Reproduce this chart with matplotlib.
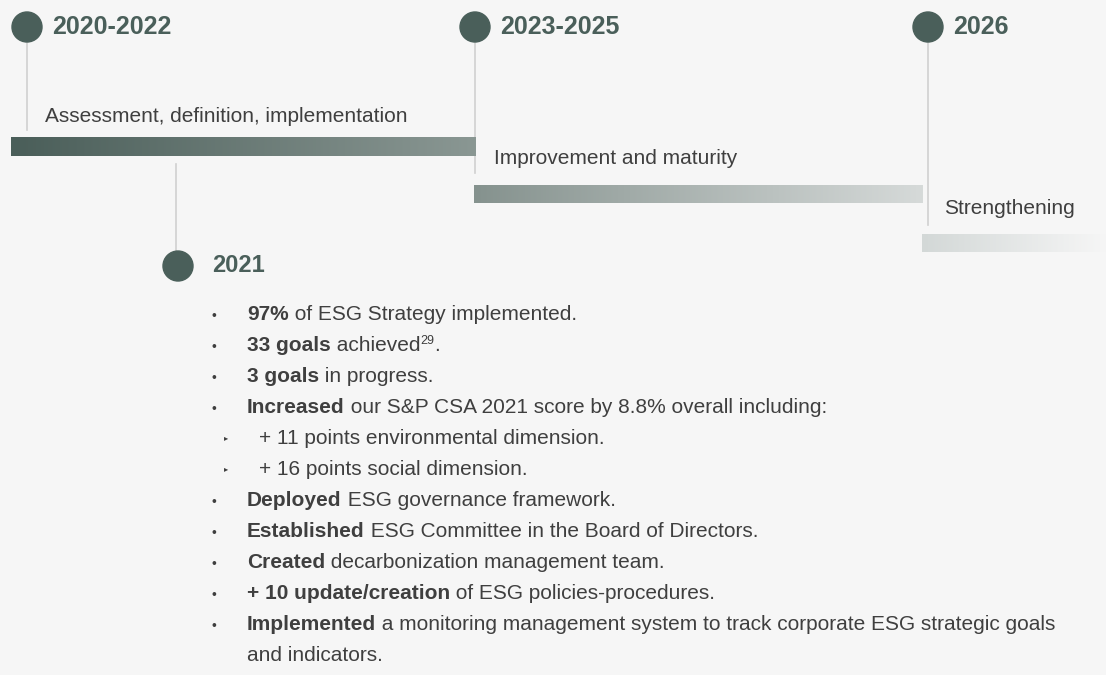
import numpy as np
import matplotlib.pyplot as plt
from matplotlib.patches import Circle
from matplotlib.colors import LinearSegmentedColormap

# phases of the timeline
phase_years = ['2020-2022', '2023-2025', '2026']
phase_names = ['Assessment, definition, implementation', 'Improvement and maturity', 'Strengthening']
bar_colors = [('#4a5e59', '#8a9793'), ('#85928e', '#d6dad9'), ('#d3d8d7', '#f6f6f6')]

# milestone
milestone_year = '2021'
# each bullet: (level, bold part, regular part, superscript, tail)
bullets = [
    (0, '97%', ' of ESG Strategy implemented.', '', ''),
    (0, '33 goals', ' achieved', '29', '.'),
    (0, '3 goals', ' in progress.', '', ''),
    (0, 'Increased', ' our S&P CSA 2021 score by 8.8% overall including:', '', ''),
    (1, '', '+ 11 points environmental dimension.', '', ''),
    (1, '', '+ 16 points social dimension.', '', ''),
    (0, 'Deployed', ' ESG governance framework.', '', ''),
    (0, 'Established', ' ESG Committee in the Board of Directors.', '', ''),
    (0, 'Created', ' decarbonization management team.', '', ''),
    (0, '+ 10 update/creation', ' of ESG policies-procedures.', '', ''),
    (0, 'Implemented', ' a monitoring management system to track corporate ESG strategic goals', '', ''),
    (2, '', 'and indicators.', '', ''),
]

plt.rcParams['font.family'] = ['Liberation Sans', 'DejaVu Sans']
green = '#4a5f5a'
txt_col = '#3f3f3f'
line_col = '#d0d0d0'

fig = plt.figure(figsize=(11.06, 6.75), dpi=100)
fig.patch.set_facecolor('#f6f6f6')
ax = fig.add_axes([0, 0, 1, 1])
ax.set_xlim(0, 1106)
ax.set_ylim(675, 0)
ax.axis('off')

# layout (pixels)
circle_x = [27, 475, 928]
line_bottom = [130, 173, 225]
bar_x = [(11, 476), (474, 923), (922, 1106)]
bar_y = [(137, 156), (185, 203), (234, 252)]
label_xy = [(45, 116), (494, 158), (944, 209)]

grad = np.linspace(0, 1, 256).reshape(1, -1)
for i in range(3):
    ax.plot([circle_x[i], circle_x[i]], [40, line_bottom[i]], color=line_col, lw=1.2, zorder=1)
    ax.add_patch(Circle((circle_x[i], 27), 15, color=green, zorder=3))
    ax.text(circle_x[i] + 25, 27, phase_years[i], color=green, fontsize=18, weight='bold',
            va='center', ha='left')
    cmap = LinearSegmentedColormap.from_list('g%d' % i, bar_colors[i])
    ax.imshow(grad, cmap=cmap, aspect='auto', zorder=2,
              extent=(bar_x[i][0], bar_x[i][1], bar_y[i][1], bar_y[i][0]))
    ax.text(label_xy[i][0], label_xy[i][1], phase_names[i], color=txt_col, fontsize=15,
            va='center', ha='left')

# 2021 milestone
ax.plot([176, 176], [164, 252], color=line_col, lw=1.2, zorder=1)
ax.add_patch(Circle((178, 266), 15, color=green, zorder=3))
ax.text(212, 266, milestone_year, color=green, fontsize=17, weight='bold', va='center')

ax.set_xlim(0, 1106)
ax.set_ylim(675, 0)

renderer = fig.canvas.get_renderer()
fs = 15
y0 = 320
dy = 31
for k, (lvl, bold, reg, sup, tail) in enumerate(bullets):
    y = y0 + k * dy
    if lvl == 0:
        ax.text(212, y, '\u2022', color=txt_col, fontsize=10, va='baseline')
        x = 247
    elif lvl == 1:
        ax.text(224, y - 5, '\u25B8', color=txt_col, fontsize=6, va='center')
        x = 259
    else:
        x = 247
    for part, w, size, dyoff in [(bold, 'bold', fs, 0), (reg, 'normal', fs, 0),
                                 (sup, 'normal', 9, -7), (tail, 'normal', fs, 0)]:
        if not part:
            continue
        t = ax.text(x, y + dyoff, part, color=txt_col, fontsize=size, weight=w, va='baseline')
        x += t.get_window_extent(renderer).width

fig.savefig('out.png', dpi=100, facecolor=fig.get_facecolor())
